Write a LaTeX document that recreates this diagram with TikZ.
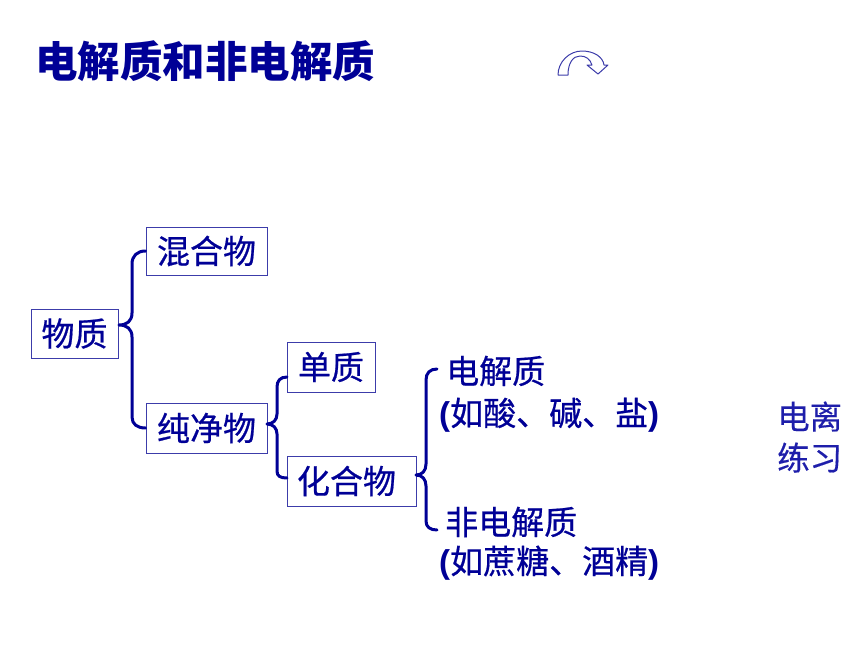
\documentclass[tikz,border=0pt]{standalone}
\usepackage{fontspec}
\newfontfamily\cjk{Noto Sans CJK SC}
\newfontfamily\cjkm[FakeBold=0.6]{Noto Sans CJK SC}
\newfontfamily\cjks[FakeBold=0.3]{Noto Sans CJK SC}
\newfontfamily\latinb{Liberation Sans}
\definecolor{navy}{RGB}{0,0,150}
\definecolor{boxline}{RGB}{60,60,170}
\definecolor{sidetxt}{RGB}{30,30,170}
\begin{document}
\begin{tikzpicture}[x=1pt,y=-1pt,
  box/.style={draw=boxline,line width=1pt,inner sep=0pt,font=\cjkm\fontsize{33}{35}\selectfont,text=navy},
  lbl/.style={inner sep=0pt,anchor=west,font=\cjkm\fontsize{33}{35}\selectfont,text=navy},
  brace/.style={draw=navy,line width=3pt,line cap=round,line join=round}]
\useasboundingbox (0,0) rectangle (860,645);
% title
\node[inner sep=0pt,anchor=west,text=navy,font=\cjk\bfseries\fontsize{42.5}{45}\selectfont] (title) at (35,61) {电解质和非电解质};
% curved arrow icon
\draw[boxline,fill=white,line width=1pt,line join=round] (558,75) .. controls (558,62) and (569,51) .. (582,51) .. controls (594,51) and (603,57) .. (604,65) -- (608,65) -- (598,74) -- (587,65) -- (592,65) .. controls (590,59) and (586,56) .. (580,56) .. controls (573,56) and (568,63) .. (568,75) -- cycle;
% boxes
\node[box,minimum width=87pt,minimum height=49pt] (wz) at (74.5,333.5) {物质};
\node[box,minimum width=121pt,minimum height=48pt] (hh) at (206.5,251) {混合物};
\node[box,minimum width=121pt,minimum height=50pt] (cjw) at (206.5,428) {纯净物};
\node[box,minimum width=88pt,minimum height=50pt] (dz) at (331,367) {单质};
\node[box,minimum width=129pt,minimum height=50pt,text width=121pt,align=left] (hhw) at (351.5,481) {\hspace*{6pt}化合物};
% texts
\node[lbl] (dj) at (446,371) {电解质};
\node[lbl] (djx) at (439,415) {{\latinb\bfseries (}如酸、碱、盐{\latinb\bfseries )}};
\node[lbl] (fdj) at (445,522) {非电解质};
\node[lbl] (fdjx) at (439,563) {{\latinb\bfseries (}如蔗糖、酒精{\latinb\bfseries )}};
% side text
\node[inner sep=0pt,anchor=west,text=sidetxt,font=\cjks\fontsize{32.5}{41}\selectfont,align=left] (side) at (777,437) {电离\\练习};
% brace coordinates
\coordinate (tip1) at (119,325);
\coordinate (b2t) at (287,377);
\coordinate (b2b) at (287,478);
\coordinate (tip2) at (267,424);
\coordinate (b3t) at (437,369);
\coordinate (b3b) at (437,530);
\coordinate (tip3) at (416,475);
% braces
\draw[brace] (hh.west) .. controls (137,251) and (132,256) .. (132,264) -- (132,313) .. controls (132,321) and (127,325) .. (tip1) .. controls (127,325) and (132,329) .. (132,337) -- (132,417) .. controls (132,424) and (137,428) .. (cjw.west);
\draw[brace] (b2t) .. controls (280,377) and (277,381) .. (277,387) -- (277,414) .. controls (277,420) and (273,424) .. (tip2) .. controls (273,424) and (277,428) .. (277,434) -- (277,471) .. controls (277,476) and (280,478) .. (b2b);
\draw[brace] (b3t) .. controls (430,369) and (426,373) .. (426,380) -- (426,464) .. controls (426,471) and (422,475) .. (tip3) .. controls (422,475) and (426,479) .. (426,486) -- (426,521) .. controls (426,527) and (430,530) .. (b3b);
\end{tikzpicture}
\end{document}
